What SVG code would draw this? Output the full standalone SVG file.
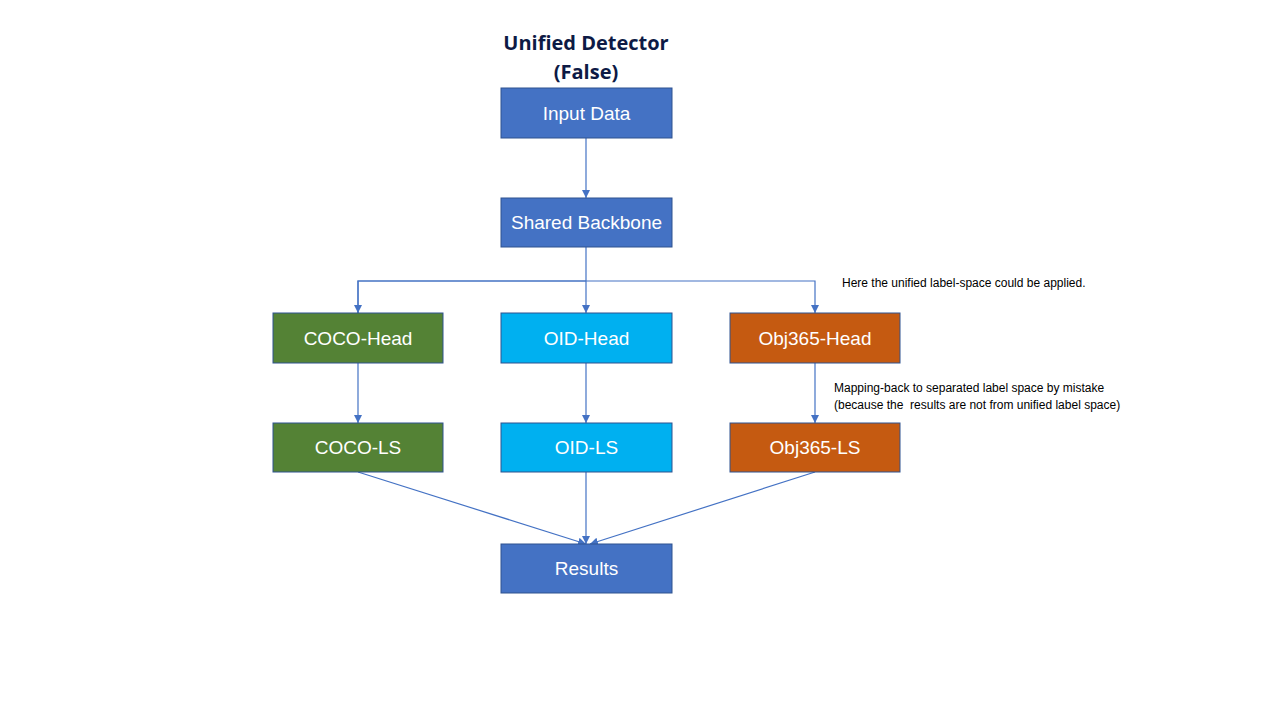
<svg xmlns="http://www.w3.org/2000/svg" width="1280" height="720" viewBox="0 0 1280 720">
<style>
.box{stroke:#2F528F;stroke-width:1}
.blue{fill:#4472C4}
.green{fill:#548235}
.cyan{fill:#00B0F0}
.orange{fill:#C55A11}
.lbl{font-family:"Liberation Sans",Arial,sans-serif;font-size:19px;fill:#FFFFFF;text-anchor:middle}
.title{font-family:"Open Sans","Liberation Sans",sans-serif;font-size:20px;font-weight:bold;fill:#0D1A45;text-anchor:middle}
.note{font-family:"Liberation Sans",Arial,sans-serif;font-size:12px;fill:#000000}
.conn{stroke:#4472C4;stroke-width:1.2;fill:none}
</style>
<defs>
<marker id="arr" viewBox="0 0 10 10" refX="10" refY="5" markerWidth="8" markerHeight="8" markerUnits="userSpaceOnUse" orient="auto">
<path d="M0,0 L10,5 L0,10 z" fill="#4472C4"/>
</marker>
</defs>
<rect width="1280" height="720" fill="#FFFFFF"/>
<g id="title">
<text class="title" x="586" y="50">Unified Detector</text>
<text class="title" x="586" y="79">(False)</text>
</g>
<g id="connectors">
<path class="conn" d="M586,138 V198" marker-end="url(#arr)"/>
<path class="conn" d="M586,247 V313" marker-end="url(#arr)"/>
<path class="conn" d="M358,313 V281 H815 V313" marker-end="url(#arr)"/>
<path class="conn" d="M586,281 H358 V313" marker-end="url(#arr)"/>
<path class="conn" d="M358,363 V423" marker-end="url(#arr)"/>
<path class="conn" d="M586,363 V423" marker-end="url(#arr)"/>
<path class="conn" d="M815,363 V423" marker-end="url(#arr)"/>
<path class="conn" d="M358,472 L586,544" marker-end="url(#arr)"/>
<path class="conn" d="M586,472 V544" marker-end="url(#arr)"/>
<path class="conn" d="M815,472 L590,544" marker-end="url(#arr)"/>
</g>
<g id="input-data"><rect class="box blue" x="501" y="88" width="171" height="50"/><text class="lbl" x="586.5" y="120">Input Data</text></g>
<g id="shared-backbone"><rect class="box blue" x="501" y="198" width="171" height="49"/><text class="lbl" x="586.5" y="229">Shared Backbone</text></g>
<g id="coco-head"><rect class="box green" x="273" y="313" width="170" height="50"/><text class="lbl" x="358" y="345">COCO-Head</text></g>
<g id="oid-head"><rect class="box cyan" x="501" y="313" width="171" height="50"/><text class="lbl" x="586.5" y="345">OID-Head</text></g>
<g id="obj365-head"><rect class="box orange" x="730" y="313" width="170" height="50"/><text class="lbl" x="815" y="345">Obj365-Head</text></g>
<g id="coco-ls"><rect class="box green" x="273" y="423" width="170" height="49"/><text class="lbl" x="358" y="454">COCO-LS</text></g>
<g id="oid-ls"><rect class="box cyan" x="501" y="423" width="171" height="49"/><text class="lbl" x="586.5" y="454">OID-LS</text></g>
<g id="obj365-ls"><rect class="box orange" x="730" y="423" width="170" height="49"/><text class="lbl" x="815" y="454">Obj365-LS</text></g>
<g id="results"><rect class="box blue" x="501" y="544" width="171" height="49"/><text class="lbl" x="586.5" y="575">Results</text></g>
<g id="notes">
<text class="note" x="842" y="287">Here the unified label-space could be applied.</text>
<text class="note" x="834" y="392">Mapping-back to separated label space by mistake</text>
<text class="note" x="834" y="409">(because the&#160; results are not from unified label space)</text>
</g>
</svg>
